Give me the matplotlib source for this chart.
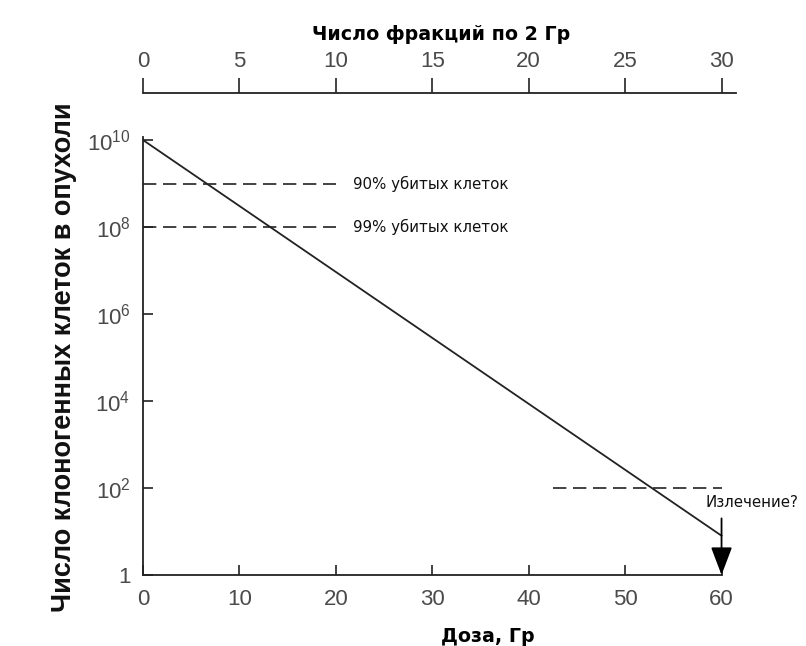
import numpy as np
import matplotlib
matplotlib.use("Agg")
import matplotlib.pyplot as plt

plt.rcParams['font.family'] = ['DejaVu Sans']
plt.rcParams['mathtext.default'] = 'regular'

# data
dose = [0, 60]
cells = [1e10, 8]
kill_levels = [1e9, 1e8]
kill_labels = ['90% убитых клеток', '99% убитых клеток']
kill_line_end = 20
cure_level = 1e2
cure_range = [42.5, 60]
arrow_from = 20
x_ticks = [0, 10, 20, 30, 40, 50, 60]
frac_ticks = [0, 5, 10, 15, 20, 25, 30]
y_ticks = [1, 1e2, 1e4, 1e6, 1e8, 1e10]
y_tick_labels = ['1', '$10^{2}$', '$10^{4}$', '$10^{6}$', '$10^{8}$', '$10^{10}$']

fig = plt.figure(figsize=(8.06, 6.46), dpi=100)
ax = fig.add_axes([143 / 806, 71 / 646, 593 / 806, 438 / 646])

ink = '#222222'
tick_col = '#4a4a4a'

ax.plot(dose, cells, color=ink, lw=1.3)
for lvl in kill_levels:
    ax.plot([0, kill_line_end], [lvl, lvl], color=ink, lw=1.2, dashes=(8, 4))
ax.plot(cure_range, [cure_level, cure_level], color=ink, lw=1.2, dashes=(8, 4))

for lvl, lab in zip(kill_levels, kill_labels):
    ax.text(21.8, lvl, lab, fontsize=10.8, va='center', ha='left', color='#111111')
ax.text(63.2, 10 ** 1.66, 'Излечение?', fontsize=10.8, va='center', ha='center',
        color='#111111', clip_on=False)

ax.annotate('', xy=(dose[-1], 1), xytext=(dose[-1], arrow_from),
            arrowprops=dict(arrowstyle='-|>,head_length=1.45,head_width=0.55',
                            mutation_scale=12, lw=1.3, color='black',
                            shrinkA=0, shrinkB=0), annotation_clip=False)

ax.set_yscale('log')
ax.set_xlim(0, 61.5)
ax.set_ylim(1, 10 ** 10.07)
ax.spines['top'].set_visible(False)
ax.spines['right'].set_visible(False)
ax.spines['bottom'].set_bounds(0, 60)
for s in ['left', 'bottom']:
    ax.spines[s].set_linewidth(1.3)
    ax.spines[s].set_color(ink)

ax.set_xticks(x_ticks)
ax.set_yticks(y_ticks)
ax.set_yticklabels(y_tick_labels)
ax.minorticks_off()
ax.yaxis.set_minor_locator(matplotlib.ticker.NullLocator())
ax.tick_params(axis='both', direction='in', length=7, width=1.2, color=ink,
               labelsize=16, labelcolor=tick_col)
ax.tick_params(axis='x', pad=10)
ax.tick_params(axis='y', pad=9)
for lab in ax.get_xticklabels() + ax.get_yticklabels():
    lab.set_family('Liberation Sans')

sec = ax.secondary_xaxis(1.10, functions=(lambda d: d / 2, lambda f: f * 2))
sec.set_xticks(frac_ticks)
sec.tick_params(direction='out', length=11, width=1.2, color=ink,
                labelsize=16, labelcolor=tick_col, pad=4)
for lab in sec.get_xticklabels():
    lab.set_family('Liberation Sans')
sec.spines['top'].set_linewidth(1.3)
sec.spines['top'].set_color(ink)

fig.text(441 / 806, 1 - 34 / 646, 'Число фракций по 2 Гр', fontsize=13.7,
         fontweight='bold', ha='center', va='center')
fig.text(488 / 806, 1 - 636 / 646, 'Доза, Гр', fontsize=13.7,
         fontweight='bold', ha='center', va='center')
fig.text(64 / 806, 1 - 357 / 646, 'Число клоногенных клеток в опухоли',
         fontsize=19.5, fontweight='bold', family='Liberation Sans',
         rotation=90, ha='center', va='center', color='#111111')

fig.savefig('out.png', dpi=100)
